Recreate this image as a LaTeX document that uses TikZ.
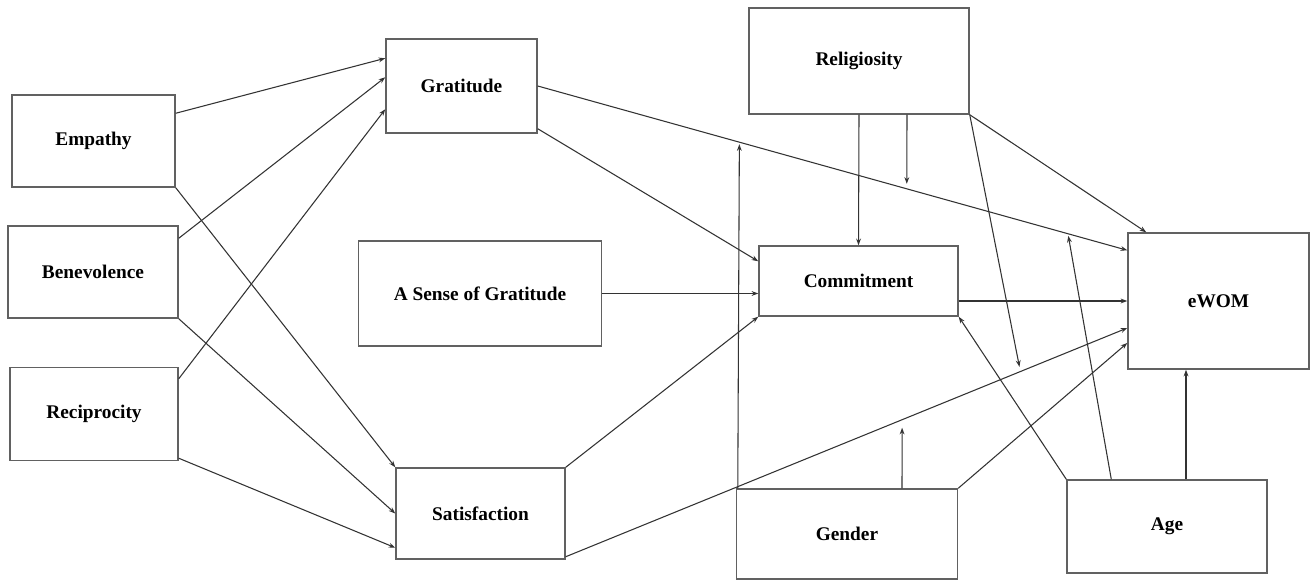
\documentclass[tikz,border=0pt]{standalone}
\usepackage{fontspec}
\setmainfont{Liberation Serif}
\usepackage{tikz}
\usetikzlibrary{calc}
\usetikzlibrary{arrows.meta}
\tikzset{every picture/.style={line width=0.75pt}}
\tikzset{
  varbox/.style={draw=black!62, line width=1.1pt, inner sep=0pt,
    font=\fontsize{14.5}{17}\selectfont\bfseries},
  wd/.style={minimum width=#1*0.75pt},
  ht/.style={minimum height=#1*0.75pt},
  link/.style={draw=black!80, line width=0.8pt, -{Stealth[length=5pt,width=3.6pt]}}
}

\begin{document}
\begin{tikzpicture}[x=0.75pt,y=0.75pt,yscale=-1,xscale=1]
\useasboundingbox (0,0) rectangle (1312,580);

%Shape: Rectangle [antecedents]
\node (emp) [varbox, wd=163, ht=92] at (93.5,141) {Empathy};
\node (ben) [varbox, wd=170, ht=92] at (93,272) {Benevolence};
\node (rec) [varbox, wd=168, ht=93] at (94,414) {Reciprocity};
%Shape: Rectangle [mediators]
\node (grat) [varbox, wd=151, ht=94] at (461.5,86) {Gratitude};
\node (sog) [varbox, wd=243, ht=105] at (480,293.5) {A Sense of Gratitude};
\node (sat) [varbox, wd=169, ht=91] at (480.5,513.5) {Satisfaction};
\node (com) [varbox, wd=199, ht=70] at (858.5,281) {Commitment};
%Shape: Rectangle [outcome and moderators]
\node (ewom) [varbox, wd=181, ht=136] at (1218.5,301) {eWOM};
\node (rel) [varbox, wd=220, ht=106] at (859,61) {Religiosity};
\node (gen) [varbox, wd=221, ht=90] at (847,534) {Gender};
\node (age) [varbox, wd=200, ht=93] at (1167,526.5) {Age};

%Line ends of the two long paths
\coordinate (gE) at (grat.east);
\coordinate (gW) at ($(ewom.north west)+(0,18)$);
\coordinate (sE) at ($(sat.south east)+(0,-3)$);
\coordinate (sW) at ($(ewom.west)+(0,27)$);

%Straight Lines [to Gratitude]
\draw [link] ($(emp.north east)+(0,19)$) -- ($(grat.north west)+(0,20)$);
\draw [link] ($(ben.north east)+(0,13)$) -- ($(grat.north west)+(0,39)$);
\draw [link] ($(rec.north east)+(0,12)$) -- ($(grat.north west)+(0,71)$);
%Straight Lines [to Satisfaction]
\draw [link] (emp.south east) -- (sat.north west);
\draw [link] (ben.south east) -- (sat.west);
\draw [link] ($(rec.south east)+(0,-3)$) -- ($(sat.south west)+(0,-12)$);
%Straight Lines [to Commitment]
\draw [link] ($(grat.south east)+(0,-5)$) -- ($(com.north west)+(0,16)$);
\draw [link] (sog.east) -- (sog.east -| com.west);
\draw [link] (sat.north east) -- (com.south west);
\draw [link] (rel.south) -- (com.north);
\draw [link] (age.north west) -- (com.south east);
%Straight Lines [to eWOM]
\draw [link] (gE) -- (gW);
\draw [link] (sE) -- (sW);
\draw [link] (com.east |- ewom.west) -- (ewom.west);
\draw [link] (rel.south east) -- ($(ewom.north west)+(19,0)$);
\draw [link] (gen.north east) -- ($(ewom.west)+(0,42)$);
\draw [link] ($(age.north)+(19,0)$) -- ($(ewom.south)+(-32.5,0)$);
%Straight Lines [moderating arrows]
\draw [link] ($(rel.south)+(48,0)$) -- ($(gE)!0.626!(gW)+(0,-5)$);
\draw [link] (rel.south east) -- ($(sE)!0.808!(sW)+(0,-5)$);
\draw [link] ($(gen.north west)+(2,0)$) -- ($(gE)!0.342!(gW)+(0,2)$);
\draw [link] ($(gen.north)+(55,0)$) -- ($(sE)!0.599!(sW)+(0,8)$);
\draw [link] ($(age.north west)+(45,0)$) -- ($(gE)!0.900!(gW)+(0,2)$);

\end{tikzpicture}
\end{document}
